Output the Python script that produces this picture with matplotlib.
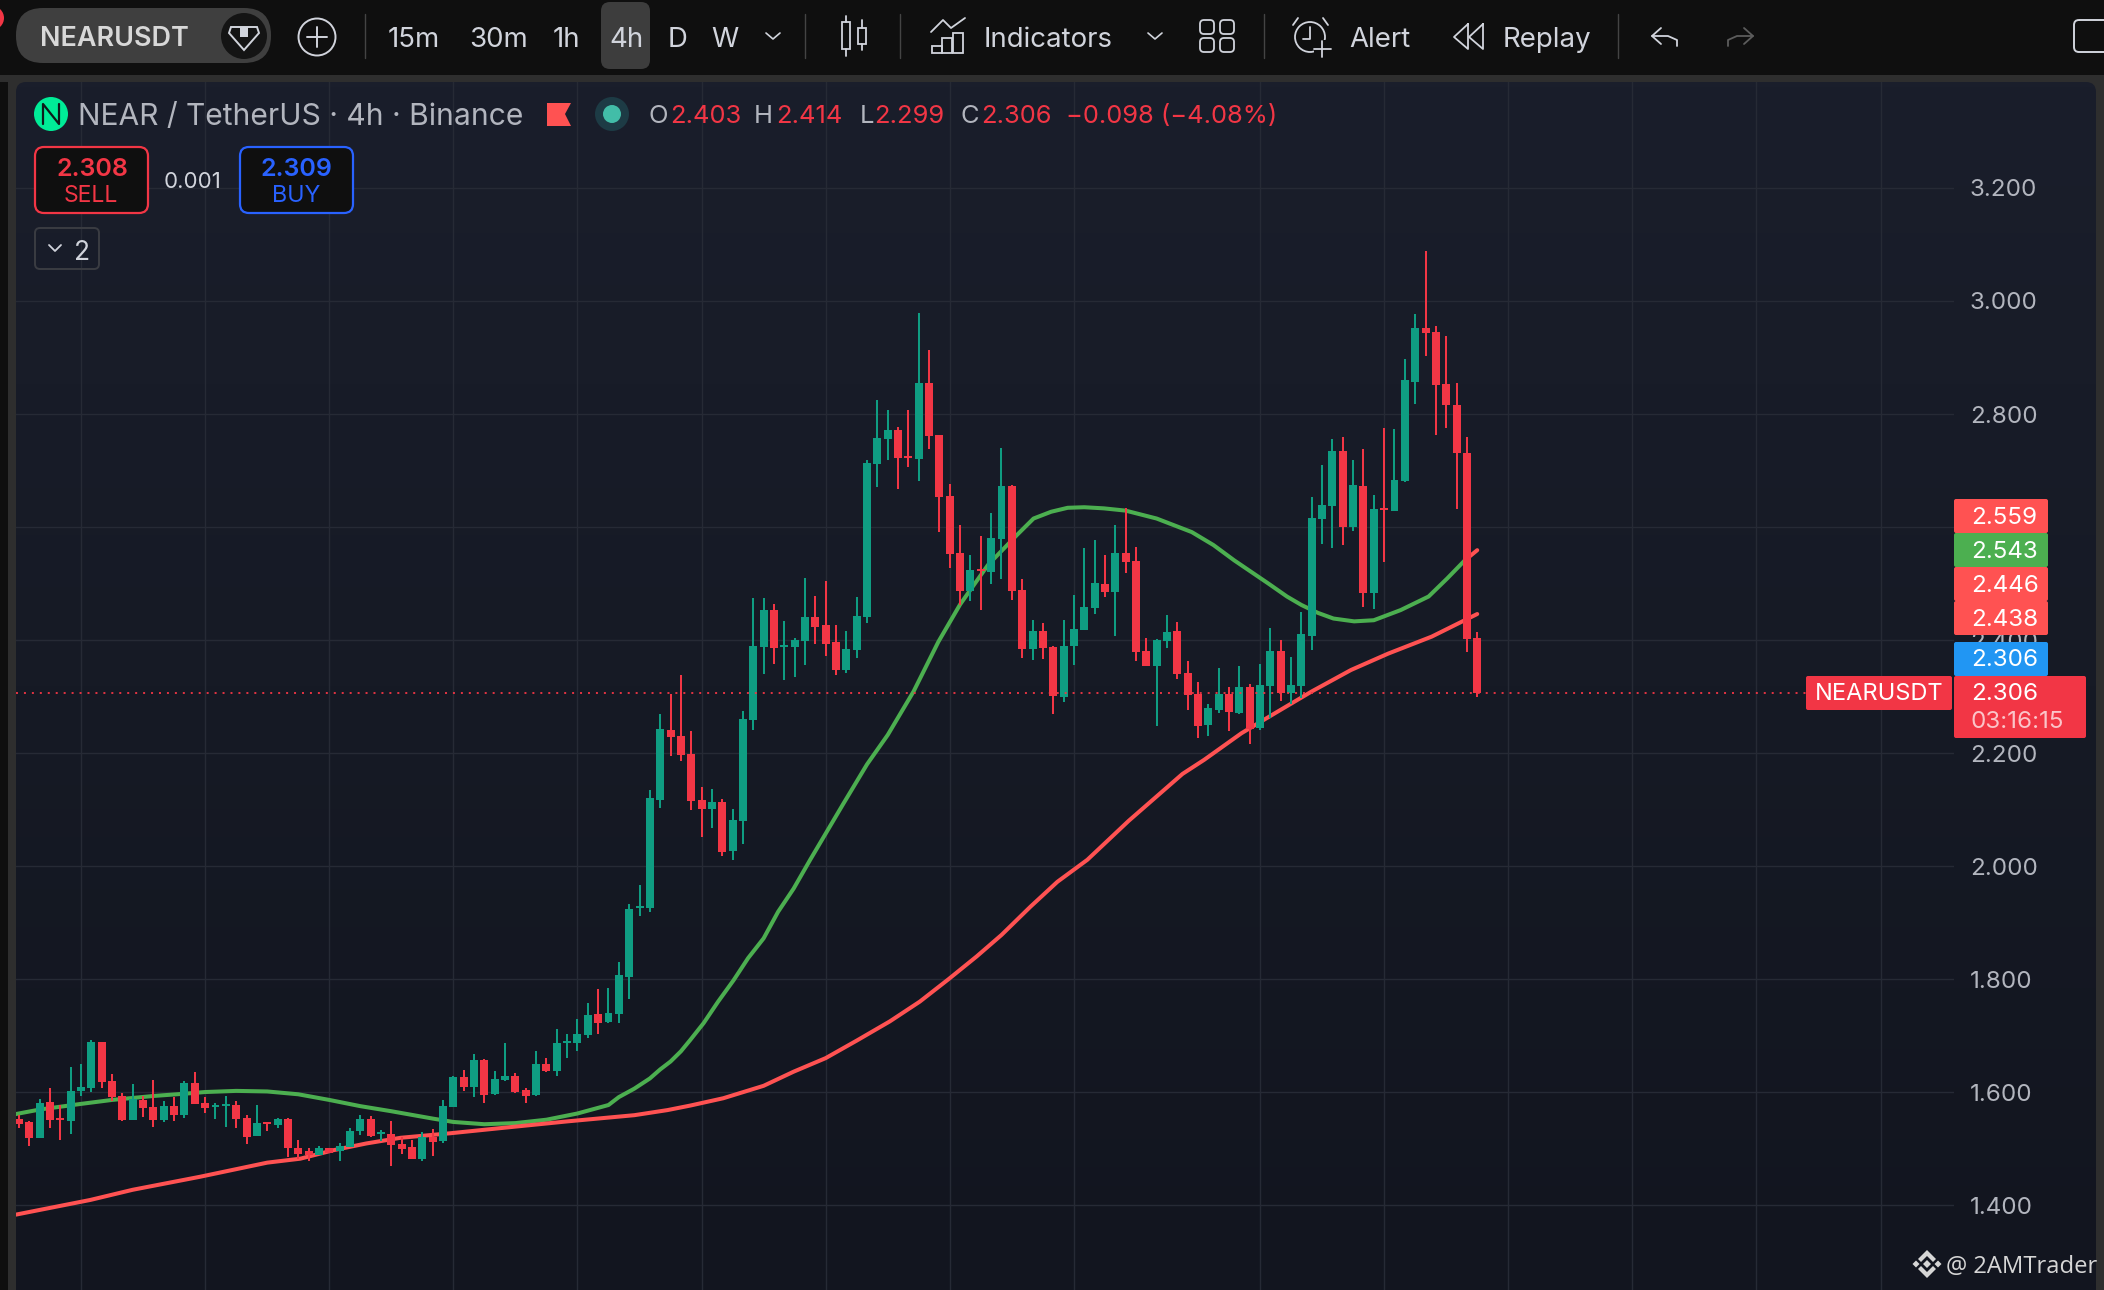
#!/usr/bin/env python3

import numpy as np
import matplotlib
matplotlib.use("Agg")
import matplotlib.pyplot as plt
from matplotlib.colors import LinearSegmentedColormap
from matplotlib.patches import Circle, FancyBboxPatch, Polygon, Rectangle

plt.rcParams['font.family'] = ['Inter', 'DejaVu Sans']

# 4h candles
opens = [1.552, 1.547, 1.519, 1.582, 1.554, 1.548, 1.602, 1.607, 1.688, 1.619,
         1.593, 1.550, 1.586, 1.573, 1.550, 1.575, 1.559, 1.616, 1.580, 1.574,
         1.576, 1.577, 1.554, 1.522, 1.547, 1.541, 1.552, 1.501, 1.495, 1.488,
         1.501, 1.495, 1.502, 1.531, 1.552, 1.526, 1.525, 1.508, 1.502, 1.481,
         1.520, 1.513, 1.573, 1.626, 1.609, 1.656, 1.596, 1.621, 1.628, 1.604,
         1.595, 1.650, 1.637, 1.687, 1.687, 1.701, 1.738, 1.724, 1.738, 1.803,
         1.926, 1.925, 2.117, 2.241, 2.230, 2.198, 2.117, 2.101, 2.113, 2.027,
         2.080, 2.258, 2.388, 2.453, 2.388, 2.388, 2.398, 2.441, 2.426, 2.396,
         2.347, 2.382, 2.441, 2.712, 2.756, 2.772, 2.726, 2.720, 2.855, 2.763,
         2.655, 2.554, 2.486, 2.525, 2.521, 2.579, 2.672, 2.488, 2.384, 2.416,
         2.388, 2.299, 2.389, 2.418, 2.457, 2.499, 2.485, 2.554, 2.540, 2.381,
         2.354, 2.398, 2.416, 2.342, 2.304, 2.250, 2.276, 2.304, 2.271, 2.317,
         2.244, 2.318, 2.381, 2.306, 2.318, 2.407, 2.614, 2.637, 2.735, 2.600,
         2.672, 2.483, 2.633, 2.628, 2.681, 2.857, 2.952, 2.945, 2.853, 2.816,
         2.731, 2.403]
closes = [1.544, 1.519, 1.580, 1.550, 1.551, 1.602, 1.609, 1.688, 1.617, 1.591,
          1.550, 1.587, 1.571, 1.550, 1.575, 1.559, 1.616, 1.579, 1.571, 1.577,
          1.579, 1.552, 1.520, 1.545, 1.544, 1.552, 1.501, 1.491, 1.488, 1.501,
          1.492, 1.504, 1.531, 1.552, 1.522, 1.529, 1.506, 1.499, 1.481, 1.520,
          1.511, 1.575, 1.626, 1.609, 1.656, 1.594, 1.623, 1.628, 1.600, 1.593,
          1.650, 1.637, 1.687, 1.690, 1.703, 1.736, 1.722, 1.740, 1.807, 1.924,
          1.929, 2.120, 2.242, 2.228, 2.197, 2.115, 2.101, 2.113, 2.025, 2.081,
          2.261, 2.389, 2.453, 2.386, 2.391, 2.400, 2.441, 2.423, 2.393, 2.347,
          2.384, 2.442, 2.713, 2.757, 2.772, 2.723, 2.723, 2.855, 2.761, 2.653,
          2.552, 2.486, 2.524, 2.523, 2.581, 2.672, 2.486, 2.384, 2.416, 2.386,
          2.301, 2.389, 2.419, 2.458, 2.501, 2.485, 2.554, 2.538, 2.379, 2.354,
          2.400, 2.414, 2.340, 2.303, 2.248, 2.280, 2.304, 2.273, 2.317, 2.242,
          2.320, 2.381, 2.306, 2.320, 2.410, 2.616, 2.639, 2.735, 2.600, 2.674,
          2.483, 2.632, 2.630, 2.683, 2.860, 2.952, 2.943, 2.851, 2.816, 2.731,
          2.402, 2.306]
highs = [1.559, 1.549, 1.587, 1.607, 1.577, 1.644, 1.649, 1.692, 1.688, 1.632,
         1.598, 1.614, 1.593, 1.621, 1.584, 1.591, 1.619, 1.635, 1.591, 1.580,
         1.593, 1.584, 1.559, 1.577, 1.547, 1.554, 1.554, 1.515, 1.501, 1.504,
         1.501, 1.509, 1.536, 1.559, 1.557, 1.533, 1.548, 1.520, 1.515, 1.529,
         1.534, 1.586, 1.628, 1.639, 1.667, 1.658, 1.637, 1.687, 1.634, 1.607,
         1.673, 1.660, 1.712, 1.703, 1.729, 1.758, 1.782, 1.784, 1.830, 1.933,
         1.966, 2.134, 2.269, 2.305, 2.338, 2.239, 2.140, 2.137, 2.118, 2.101,
         2.275, 2.475, 2.475, 2.464, 2.434, 2.404, 2.510, 2.478, 2.505, 2.426,
         2.416, 2.476, 2.719, 2.825, 2.807, 2.777, 2.807, 2.979, 2.913, 2.763,
         2.676, 2.603, 2.551, 2.584, 2.625, 2.739, 2.675, 2.508, 2.435, 2.430,
         2.389, 2.435, 2.479, 2.563, 2.577, 2.550, 2.603, 2.634, 2.565, 2.404,
         2.402, 2.444, 2.432, 2.363, 2.326, 2.287, 2.351, 2.317, 2.354, 2.322,
         2.357, 2.421, 2.400, 2.370, 2.449, 2.653, 2.710, 2.756, 2.759, 2.718,
         2.738, 2.656, 2.775, 2.773, 2.897, 2.977, 3.089, 2.956, 2.938, 2.855,
         2.759, 2.414]
lows = [1.536, 1.504, 1.519, 1.536, 1.515, 1.525, 1.593, 1.600, 1.607, 1.584,
        1.548, 1.550, 1.556, 1.538, 1.547, 1.548, 1.554, 1.579, 1.563, 1.552,
        1.538, 1.536, 1.508, 1.522, 1.531, 1.536, 1.485, 1.481, 1.478, 1.488,
        1.492, 1.478, 1.502, 1.524, 1.520, 1.513, 1.469, 1.490, 1.481, 1.478,
        1.486, 1.509, 1.573, 1.602, 1.591, 1.580, 1.594, 1.620, 1.598, 1.581,
        1.593, 1.636, 1.628, 1.660, 1.673, 1.696, 1.703, 1.722, 1.722, 1.764,
        1.911, 1.918, 2.103, 2.195, 2.186, 2.100, 2.051, 2.067, 2.018, 2.011,
        2.039, 2.241, 2.340, 2.358, 2.329, 2.335, 2.356, 2.393, 2.372, 2.338,
        2.342, 2.368, 2.430, 2.670, 2.719, 2.667, 2.706, 2.681, 2.738, 2.591,
        2.528, 2.462, 2.469, 2.453, 2.499, 2.508, 2.471, 2.368, 2.365, 2.366,
        2.269, 2.290, 2.355, 2.418, 2.446, 2.476, 2.407, 2.518, 2.363, 2.354,
        2.248, 2.386, 2.331, 2.276, 2.227, 2.230, 2.271, 2.239, 2.269, 2.216,
        2.240, 2.262, 2.292, 2.287, 2.297, 2.382, 2.570, 2.563, 2.568, 2.593,
        2.458, 2.454, 2.538, 2.628, 2.680, 2.818, 2.903, 2.763, 2.775, 2.632,
        2.379, 2.299]

# moving averages, sampled along the curves
fast_bars = [-0.3, 2, 6, 9, 13, 16, 18, 21, 24, 27, 30, 33, 36, 40, 42, 45, 48,
             51, 54, 57, 58, 59.5, 61, 62, 63, 64, 64.9, 66.2, 67.6, 69.1, 70.5,
             72, 73.4, 74.9, 76.5, 79.7, 82, 84, 86.5, 88.9, 91, 93.7, 96.5,
             98.1, 99.8, 101.4, 103, 104.9, 107, 110, 113.4, 115.5, 117.5, 120.8,
             122.6, 124, 125.6, 127.1, 129.1, 131, 133.6, 136.3, 138.1, 139.8]
fast_ma = [1.561, 1.569, 1.579, 1.586, 1.593, 1.597, 1.600, 1.602, 1.601, 1.596,
           1.586, 1.575, 1.566, 1.553, 1.547, 1.543, 1.545, 1.551, 1.562, 1.577,
           1.591, 1.606, 1.624, 1.640, 1.654, 1.672, 1.692, 1.722, 1.760, 1.798,
           1.837, 1.872, 1.919, 1.960, 2.011, 2.110, 2.180, 2.232, 2.309, 2.397,
           2.463, 2.533, 2.586, 2.615, 2.627, 2.634, 2.635, 2.633, 2.629, 2.615,
           2.591, 2.568, 2.541, 2.500, 2.477, 2.462, 2.448, 2.438, 2.433, 2.435,
           2.453, 2.477, 2.509, 2.541]
tail_bars = [139.8, 141]
tail_ma = [2.541, 2.559]
slow_bars = [-0.3, 6.9, 11, 17.5, 24, 27.2, 30.4, 33.6, 36.9, 41.7, 46.5, 53,
             59.5, 62.7, 64.9, 68.1, 72, 74.9, 78, 81, 84.2, 87.1, 89.9, 92.6,
             95, 97.8, 100.4, 103.3, 107.3, 112.5, 114.6, 118.2, 121.4, 125,
             128.8, 132.4, 136.6, 141]
slow_ma = [1.383, 1.409, 1.427, 1.450, 1.475, 1.482, 1.497, 1.509, 1.519, 1.527,
           1.536, 1.548, 1.559, 1.568, 1.576, 1.589, 1.611, 1.636, 1.660, 1.691,
           1.725, 1.760, 1.800, 1.840, 1.878, 1.928, 1.972, 2.011, 2.080, 2.163,
           2.188, 2.235, 2.270, 2.309, 2.347, 2.376, 2.406, 2.446]

last_price = 2.306
price_ticks = [1.4, 1.6, 1.8, 2.0, 2.2, 2.4, 2.6, 2.8, 3.0, 3.2]
price_labels = ['1.400', '1.600', '1.800', '2.000', '2.200', '2.400', '2.600',
                '2.800', '3.000', '3.200']
grid_bars = [6, 18, 30, 42, 54, 66, 78, 90, 102, 120, 132, 144, 156, 168, 180]

W, H = 2104, 1290
UP = '#0f9d82'
DOWN = '#f23645'
MA_GREEN = '#4caf50'
MA_RED = '#ff5252'
TOOLBAR = '#0f0f0f'
TEXT = '#d1d4dc'
MUTED = '#b2b5be'

fig = plt.figure(figsize=(W / 100, H / 100), dpi=100, facecolor=TOOLBAR)


def pixel_axes(zorder):
    a = fig.add_axes([0, 0, 1, 1], zorder=zorder)
    a.set_xlim(0, W)
    a.set_ylim(H, 0)
    a.axis('off')
    return a


def label(a, x, y, s, size=17, color=TEXT, ha='left', weight='normal', family=None):
    kw = {'family': family} if family else {}
    a.text(x, y, s, fontsize=size, color=color, ha=ha, va='center_baseline',
           fontweight=weight, **kw)


def box(a, x0, y0, x1, y1, r=3, fc='none', ec='none', lw=0):
    p = FancyBboxPatch((x0 + r, y0 + r), x1 - x0 - 2 * r, y1 - y0 - 2 * r,
                       boxstyle=f'round,pad={r}', fc=fc, ec=ec, lw=lw)
    a.add_patch(p)
    return p


def stroke(a, xs, ys, color=TEXT, lw=1.4):
    a.plot(xs, ys, color=color, lw=lw, solid_capstyle='round', solid_joinstyle='round')


# background: dark frame and the pane with its soft vertical gradient
bg = pixel_axes(0)
bg.add_patch(Rectangle((8, 75), W - 8, H - 75, fc='#2e2e2e', ec='none'))
bg.add_patch(Rectangle((0, 75), W, 7, fc='#2e2e2e', ec='none'))
pane = LinearSegmentedColormap.from_list('pane', ['#1a1e2b', '#161a25', '#12151f'])
img = bg.imshow(np.linspace(0, 1, 256).reshape(-1, 1), cmap=pane, aspect='auto',
                extent=(16, 2096, H, 82), zorder=2)
clip = box(bg, 16, 82, 2096, H + 30, r=10)
img.set_clip_path(clip)
bg.set_xlim(0, W)
bg.set_ylim(H, 0)

# price chart
ax = fig.add_axes([16 / W, 0, (1954 - 16) / W, (H - 82) / H], zorder=1)
ax.patch.set_alpha(0)
ax.set_xlim(-0.29, 187.1)
ax.set_ylim(1.2496, 3.3876)
for s in ax.spines.values():
    s.set_visible(False)
ax.set_xticks(grid_bars)
ax.set_yticks(price_ticks)
ax.set_yticklabels(price_labels)
ax.yaxis.tick_right()
ax.tick_params(axis='x', length=0, labelbottom=False)
ax.tick_params(axis='y', length=0, pad=11.5, labelsize=17.4, labelcolor=MUTED)
for t in ax.get_yticklabels():
    t.set_verticalalignment('center_baseline')
ax.grid(True, color='#262a35', lw=1.0, zorder=0)
ax.set_axisbelow(True)

bars = np.arange(len(opens))
o = np.array(opens)
c = np.array(closes)
colors = [UP if b >= a else DOWN for a, b in zip(o, c)]
body_low = np.minimum(o, c)
# very small bodies still show as a 2px tick
body_h = np.maximum(np.abs(c - o), 0.003)

ax.plot(fast_bars, fast_ma, color=MA_GREEN, lw=2.9, zorder=2, solid_joinstyle='round')
ax.plot(tail_bars, tail_ma, color=MA_RED, lw=2.9, zorder=2, solid_capstyle='round')
ax.plot(slow_bars, slow_ma, color=MA_RED, lw=2.9, zorder=2, solid_capstyle='round',
        solid_joinstyle='round')
ax.vlines(bars, lows, highs, colors=colors, lw=1.45, zorder=3)
ax.bar(bars, body_h, bottom=body_low, width=0.77, color=colors, lw=0, zorder=4)
ax.plot([-0.29, 172.8], [last_price, last_price], color=DOWN, lw=1.3,
        linestyle=(0, (1.1, 3.3)), zorder=5)

# everything drawn on top: toolbar, legend, price tags
ui = pixel_axes(2)

# toolbar
ui.add_patch(Circle((-8, 18), 12, fc=DOWN, ec='none'))
box(ui, 16, 8, 271, 63, r=27, fc='#3f3f3f')
label(ui, 40, 36, 'NEARUSDT', size=19.4, color='#d8d8d8', weight='semibold')
ui.add_patch(Circle((244, 36), 23, fc='#141414', ec='none'))
ui.add_patch(Polygon([(231, 27), (257, 27), (259, 33), (244, 50), (229, 33)], fc='none',
                     ec=TEXT, lw=1.4))
ui.add_patch(Rectangle((240, 27), 8, 10, fc=TEXT, ec='none'))
ui.add_patch(Circle((317, 37), 18.5, fc='none', ec=TEXT, lw=1.4))
stroke(ui, [317, 317], [27, 47])
stroke(ui, [307, 327], [37, 37])

for x in [365, 805, 900, 1264, 1618]:
    stroke(ui, [x, x], [14, 58], color='#444444', lw=1.0)

box(ui, 601, 2, 650, 69, r=9, fc='#3d3d3d')
for x, s in [(388, '15m'), (469, '30m'), (553, '1h'), (609, '4h'), (668, 'D'), (711, 'W'),
             (984, 'Indicators'), (1349, 'Alert'), (1503, 'Replay')]:
    label(ui, x, 37, s, size=19.9, color=TEXT)

for x in [773, 1155]:
    stroke(ui, [x - 7, x, x + 7], [33, 39, 33], lw=1.2)

# candle icon
for x, y0, y1, t0, t1 in [(846, 22, 49, 16, 56), (862, 28, 44, 20, 50)]:
    ui.add_patch(Rectangle((x - 4, y0), 8, y1 - y0, fc='none', ec=TEXT, lw=1.3))
    stroke(ui, [x, x], [t0, y0], lw=1.3)
    stroke(ui, [x, x], [y1, t1], lw=1.3)

# indicators icon
stroke(ui, [931, 943, 951, 965], [32, 20, 28, 18], lw=1.3)
for x, y0 in [(932, 46), (942, 38), (953, 33)]:
    ui.add_patch(Rectangle((x, y0), 10, 53 - y0, fc='none', ec=TEXT, lw=1.3))

# layouts icon
for x in [1200, 1220]:
    for y in [20, 38]:
        box(ui, x, y, x + 14, y + 14, r=4, ec=TEXT, lw=1.3)

# alert icon
ui.add_patch(Circle((1310, 37), 15, fc='none', ec=TEXT, lw=1.3))
stroke(ui, [1310, 1310, 1303], [27, 39, 39], lw=1.3)
stroke(ui, [1293, 1298], [25, 18], lw=1.3)
stroke(ui, [1323, 1328], [18, 25], lw=1.3)
ui.add_patch(Rectangle((1314, 40), 18, 18, fc=TOOLBAR, ec='none'))
stroke(ui, [1322, 1322], [41, 57], lw=1.3)
stroke(ui, [1314, 1331], [49, 49], lw=1.3)

# replay icon
stroke(ui, [1468, 1454, 1468, 1468], [24, 37, 49, 24], lw=1.3)
stroke(ui, [1483, 1469, 1483, 1483], [24, 37, 49, 24], lw=1.3)

# undo, redo and the cut off box at the edge
stroke(ui, [1661, 1652, 1661], [28, 36, 44], lw=1.3)
stroke(ui, [1652, 1668, 1677, 1677], [36, 36, 40, 46], lw=1.3)
stroke(ui, [1744, 1753, 1744], [28, 36, 44], color='#5c5c5c', lw=1.3)
stroke(ui, [1753, 1737, 1728, 1728], [36, 36, 40, 46], color='#5c5c5c', lw=1.3)
box(ui, 2074, 20, 2130, 52, r=5, ec=TEXT, lw=1.4)

# legend row
ui.add_patch(Circle((51, 114), 17, fc='#00ec97', ec='none'))
stroke(ui, [43, 43, 59, 59], [124, 104, 124, 104], color='#0f1a1a', lw=1.6)
label(ui, 78, 114, 'NEAR / TetherUS · 4h · Binance', size=21.6, color=MUTED)
ui.add_patch(Polygon([(547, 103), (571, 103), (565, 114), (571, 126), (547, 126)],
                     fc=MA_RED, ec='none'))
ui.add_patch(Circle((612, 114), 17, fc='#1d3b45', ec='none'))
ui.add_patch(Circle((612, 114), 9, fc='#42bda8', ec='none'))
for x, s, col in [(648, 'O', MUTED), (670, '2.403', DOWN), (754, 'H', MUTED), (776, '2.414', DOWN),
                  (860, 'L', MUTED), (874, '2.299', DOWN), (961, 'C', MUTED), (981, '2.306', DOWN),
                  (1066, '−0.098 (−4.08%)', DOWN)]:
    label(ui, x, 114, s, size=18.4, color=col)

# order buttons
box(ui, 35, 147, 148, 213, r=9, fc=TOOLBAR, ec=DOWN, lw=1.6)
label(ui, 92, 167, '2.308', size=18, color=DOWN, ha='center', weight='semibold')
label(ui, 91, 194, 'SELL', size=16.5, color=DOWN, ha='center')
label(ui, 193, 180, '0.001', size=16, color=TEXT, ha='center')
box(ui, 240, 147, 353, 213, r=9, fc=TOOLBAR, ec='#2962ff', lw=1.6)
label(ui, 296, 167, '2.309', size=18, color='#2962ff', ha='center', weight='semibold')
label(ui, 296, 194, 'BUY', size=16.8, color='#2962ff', ha='center')
box(ui, 35, 228, 99, 269, r=5, ec='#3a3c42', lw=1.4)
stroke(ui, [49, 55, 61], [245, 251, 245], lw=1.3)
label(ui, 82, 250, '2', size=19, color=TEXT, ha='center')

# price tags
for y0, s, col in [(499, '2.559', MA_RED), (533, '2.543', MA_GREEN), (567, '2.446', MA_RED),
                   (601, '2.438', MA_RED), (642, '2.306', '#2196f3')]:
    box(ui, 1954, y0, 2048, y0 + 34, r=2, fc=col)
    label(ui, 1971, y0 + 16, s, size=17.4, color='white')
box(ui, 1954, 676, 2086, 738, r=2, fc=DOWN)
label(ui, 1971, 692, '2.306', size=17.4, color='white')
label(ui, 1971, 720, '03:16:15', size=17.4, color='#fbc4c9')
box(ui, 1806, 676, 1952, 710, r=2, fc=DOWN)
label(ui, 1815, 692, 'NEARUSDT', size=17, color='white')

# watermark
cx, cy = 1927, 1264
for dx, dy, s in [(-11, 0, 3.5), (11, 0, 3.5), (0, 0, 4)]:
    ui.add_patch(Polygon([(cx + dx, cy + dy - s), (cx + dx + s, cy + dy),
                          (cx + dx, cy + dy + s), (cx + dx - s, cy + dy)],
                         fc='#d6d6d6', ec='none'))
for sign in [-1, 1]:
    ui.add_patch(Polygon([(cx, cy + sign * 14), (cx + 9, cy + sign * 5), (cx + 6, cy + sign * 2),
                          (cx, cy + sign * 8), (cx - 6, cy + sign * 2), (cx - 9, cy + sign * 5)],
                         fc='#d6d6d6', ec='none'))
label(ui, 1946, 1264, '@ 2AMTrader', size=17.1, color='#d6d6d6', family='Open Sans')

fig.savefig('out.png', dpi=100, facecolor=fig.get_facecolor())
